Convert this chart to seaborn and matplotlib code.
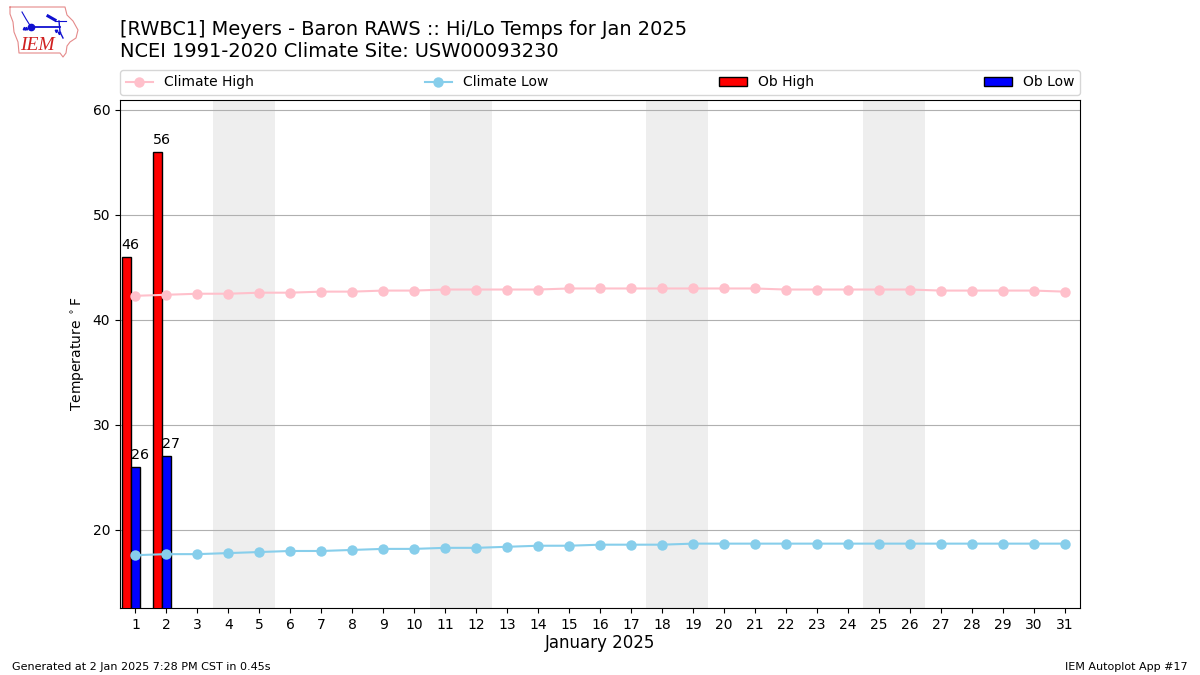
import matplotlib
matplotlib.use("Agg")
import matplotlib.pyplot as plt
import seaborn as sns
import pandas as pd

# values
days = list(range(1, 32))
climate_high = [42.3, 42.4, 42.5, 42.5, 42.6, 42.6, 42.7, 42.7, 42.8, 42.8, 42.9,
                42.9, 42.9, 42.9, 43.0, 43.0, 43.0, 43.0, 43.0, 43.0, 43.0, 42.9,
                42.9, 42.9, 42.9, 42.9, 42.8, 42.8, 42.8, 42.8, 42.7]
climate_low = [17.6, 17.7, 17.7, 17.8, 17.9, 18.0, 18.0, 18.1, 18.2, 18.2, 18.3,
               18.3, 18.4, 18.5, 18.5, 18.6, 18.6, 18.6, 18.7, 18.7, 18.7, 18.7,
               18.7, 18.7, 18.7, 18.7, 18.7, 18.7, 18.7, 18.7, 18.7]
ob_days = [1, 2]
ob_high = [46, 56]
ob_low = [26, 27]
weekends = [4, 11, 18, 25]

df = pd.DataFrame({"day": days, "high": climate_high, "low": climate_low})

fig = plt.figure(figsize=(12, 6.75), dpi=100)
ax = fig.add_axes([0.1, 67 / 675, 0.8, 508 / 675])

for start in weekends:
    ax.axvspan(start - 0.5, start + 1.5, color="#eeeeee", lw=0, zorder=0)

sns.lineplot(data=df, x="day", y="high", color="pink", marker="o", markersize=7.5,
             markeredgewidth=0, label="Climate High", errorbar=None, ax=ax, zorder=4)
sns.lineplot(data=df, x="day", y="low", color="skyblue", marker="o", markersize=7.5,
             markeredgewidth=0, label="Climate Low", errorbar=None, ax=ax, zorder=4)

ax.bar([d - 0.3 for d in ob_days], ob_high, width=0.3, color="red", edgecolor="k",
       label="Ob High", zorder=3)
ax.bar(ob_days, ob_low, width=0.3, color="blue", edgecolor="k", label="Ob Low", zorder=3)

for d, hi, lo in zip(ob_days, ob_high, ob_low):
    ax.text(d - 0.45, hi + 0.5, str(hi), ha="left", va="bottom", fontsize=10.3, zorder=5)
    ax.text(d - 0.15, lo + 0.5, str(lo), ha="left", va="bottom", fontsize=10.3, zorder=5)

ax.set_xlim(0.5, 31.5)
ax.set_ylim(12.57, 60.95)
ax.set_xticks(days)
ax.set_yticks([20, 30, 40, 50, 60])
ax.grid(axis="y", zorder=1)
ax.set_axisbelow(True)
ax.set_xlabel("January 2025", fontsize=12, labelpad=2)
ax.set_ylabel(r"Temperature $^\circ$F", fontsize=10)

ax.legend(loc="lower left", bbox_to_anchor=(0, 1.01, 1, 0.05), mode="expand",
          ncol=4, borderaxespad=0, fontsize=10)

fig.text(0.1, 1 - 35 / 675, "[RWBC1] Meyers - Baron RAWS :: Hi/Lo Temps for Jan 2025", fontsize=13.98)
fig.text(0.1, 1 - 57 / 675, "NCEI 1991-2020 Climate Site: USW00093230", fontsize=13.98)
fig.text(0.01, 1 - 670 / 675, "Generated at 2 Jan 2025 7:28 PM CST in 0.45s", fontsize=8)
fig.text(0.99, 1 - 670 / 675, "IEM Autoplot App #17", fontsize=8, ha="right")

# rough IEM logo, in pixels
logo = fig.add_axes([0, 1 - 60 / 675, 85 / 1200, 60 / 675])
logo.set_xlim(0, 85)
logo.set_ylim(60, 0)
logo.axis("off")
outline_x = [10, 65, 67, 73, 78, 76, 70, 67, 66, 63, 60, 19, 18, 14, 13, 10, 10]
outline_y = [7, 7, 15, 21, 30, 38, 42, 46, 53, 57, 53, 53, 42, 32, 22, 14, 7]
logo.plot(outline_x, outline_y, color="#e58a8a", lw=0.8)
logo.plot([31, 60], [27, 27], color="#1010d0", lw=1.3)
logo.plot([22, 26, 31], [12, 19, 27], color="#1010d0", lw=0.8)
logo.plot([31], [27], "o", color="#1010d0", ms=4.5)
logo.plot([48, 55], [16, 20], color="#1010d0", lw=2.2)
logo.plot([55, 66], [21, 21], color="#1010d0", lw=0.8)
logo.plot([59, 60, 63], [21, 32, 38], color="#1010d0", lw=1)
logo.plot([24, 26], [28, 28], "^", color="#1010d0", ms=1.8)
logo.plot([56, 59], [31, 33], "v", color="#1010d0", ms=1.8)
logo.text(37, 45, "IEM", color="#d02020", fontsize=14, family="Liberation Serif",
          style="italic", ha="center", va="center")

fig.savefig("out.png", dpi=100)
